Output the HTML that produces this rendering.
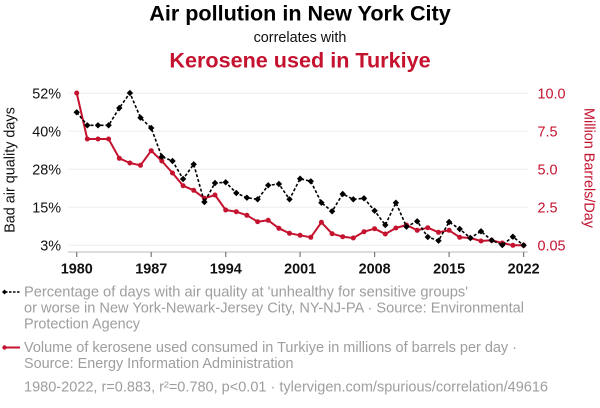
<!DOCTYPE html>
<html>
<head>
<meta charset="utf-8">
<style>
html,body{margin:0;padding:0;background:#fff;}
svg{display:block;}
text{font-family:"Liberation Sans",Arial,sans-serif;}
</style>
</head>
<body>
<svg width="600" height="408" viewBox="0 0 600 408" xmlns="http://www.w3.org/2000/svg">
<rect width="600" height="408" fill="#fff"/>
<defs>
<path id="d" d="M0,-3.2 L3.2,0 L0,3.2 L-3.2,0 Z" fill="#000"/>
</defs>

<!-- Titles -->
<text x="300" y="20.5" text-anchor="middle" font-size="21.6" font-weight="bold" fill="#000">Air pollution in New York City</text>
<text x="300" y="42" text-anchor="middle" font-size="14.4" fill="#111">correlates with</text>
<text x="300" y="67.3" text-anchor="middle" font-size="21.6" font-weight="bold" fill="#c4122f">Kerosene used in Turkiye</text>

<!-- gridlines -->
<g stroke="#eeeeee" stroke-width="1">
<line x1="68" y1="93.3" x2="528" y2="93.3"/>
<line x1="68" y1="131.3" x2="528" y2="131.3"/>
<line x1="68" y1="169.3" x2="528" y2="169.3"/>
<line x1="68" y1="207.3" x2="528" y2="207.3"/>
<line x1="68" y1="245.3" x2="528" y2="245.3"/>
</g>

<!-- x axis -->
<line x1="68" y1="252" x2="528" y2="252" stroke="#d0d0d0" stroke-width="1.5"/>
<g stroke="#777" stroke-width="1.2">
<line x1="76.7" y1="252" x2="76.7" y2="257"/>
<line x1="151.2" y1="252" x2="151.2" y2="257"/>
<line x1="225.7" y1="252" x2="225.7" y2="257"/>
<line x1="300.1" y1="252" x2="300.1" y2="257"/>
<line x1="374.6" y1="252" x2="374.6" y2="257"/>
<line x1="449.1" y1="252" x2="449.1" y2="257"/>
<line x1="523.6" y1="252" x2="523.6" y2="257"/>
</g>
<g font-size="14.4" font-weight="bold" fill="#111" text-anchor="middle">
<text x="76.7" y="273.5">1980</text>
<text x="151.2" y="273.5">1987</text>
<text x="225.7" y="273.5">1994</text>
<text x="300.1" y="273.5">2001</text>
<text x="374.6" y="273.5">2008</text>
<text x="449.1" y="273.5">2015</text>
<text x="523.6" y="273.5">2022</text>
</g>

<!-- left axis labels -->
<g font-size="14.4" fill="#111" text-anchor="end">
<text x="61" y="98.5">52%</text>
<text x="61" y="136.5">40%</text>
<text x="61" y="174.5">28%</text>
<text x="61" y="212.5">15%</text>
<text x="61" y="250.5">3%</text>
</g>
<text transform="translate(14.5,170) rotate(-90)" text-anchor="middle" font-size="14.4" fill="#111">Bad air quality days</text>

<!-- right axis labels -->
<g font-size="14.4" fill="#c4122f" text-anchor="start">
<text x="537.5" y="98.5">10.0</text>
<text x="537.5" y="136.5">7.5</text>
<text x="537.5" y="174.5">5.0</text>
<text x="537.5" y="212.5">2.5</text>
<text x="537.5" y="250.5">0.05</text>
</g>
<text transform="translate(584.5,168) rotate(90)" text-anchor="middle" font-size="14.4" fill="#c4122f">Million Barrels/Day</text>

<!-- red series -->
<polyline fill="none" stroke="#c4122f" stroke-width="2" stroke-linejoin="round" points="76.7,93 87.3,139 98,139 108.6,139 119.3,158.3 129.9,163 140.5,165.3 151.2,150.7 161.8,161 172.5,173 183.1,185.7 193.7,190.3 204.4,198.3 215,195 225.7,210 236.3,211.7 246.9,215.3 257.6,221.7 268.2,220.3 278.9,228.3 289.5,233.3 300.1,235.3 310.8,237.3 321.4,222.3 332.1,233.7 342.7,236.7 353.3,238 364,231.7 374.6,228.7 385.3,234 395.9,228 406.5,225 417.2,230.3 427.8,227.7 438.5,232.3 449.1,230.3 459.7,237.3 470.4,238 481,241 491.7,240.3 502.3,243 512.9,245.3 523.6,245.3"/>
<g fill="#c4122f">
<circle cx="76.7" cy="93" r="2.5"/><circle cx="87.3" cy="139" r="2.5"/><circle cx="98" cy="139" r="2.5"/><circle cx="108.6" cy="139" r="2.5"/><circle cx="119.3" cy="158.3" r="2.5"/><circle cx="129.9" cy="163" r="2.5"/><circle cx="140.5" cy="165.3" r="2.5"/><circle cx="151.2" cy="150.7" r="2.5"/><circle cx="161.8" cy="161" r="2.5"/><circle cx="172.5" cy="173" r="2.5"/><circle cx="183.1" cy="185.7" r="2.5"/><circle cx="193.7" cy="190.3" r="2.5"/><circle cx="204.4" cy="198.3" r="2.5"/><circle cx="215" cy="195" r="2.5"/><circle cx="225.7" cy="210" r="2.5"/><circle cx="236.3" cy="211.7" r="2.5"/><circle cx="246.9" cy="215.3" r="2.5"/><circle cx="257.6" cy="221.7" r="2.5"/><circle cx="268.2" cy="220.3" r="2.5"/><circle cx="278.9" cy="228.3" r="2.5"/><circle cx="289.5" cy="233.3" r="2.5"/><circle cx="300.1" cy="235.3" r="2.5"/><circle cx="310.8" cy="237.3" r="2.5"/><circle cx="321.4" cy="222.3" r="2.5"/><circle cx="332.1" cy="233.7" r="2.5"/><circle cx="342.7" cy="236.7" r="2.5"/><circle cx="353.3" cy="238" r="2.5"/><circle cx="364" cy="231.7" r="2.5"/><circle cx="374.6" cy="228.7" r="2.5"/><circle cx="385.3" cy="234" r="2.5"/><circle cx="395.9" cy="228" r="2.5"/><circle cx="406.5" cy="225" r="2.5"/><circle cx="417.2" cy="230.3" r="2.5"/><circle cx="427.8" cy="227.7" r="2.5"/><circle cx="438.5" cy="232.3" r="2.5"/><circle cx="449.1" cy="230.3" r="2.5"/><circle cx="459.7" cy="237.3" r="2.5"/><circle cx="470.4" cy="238" r="2.5"/><circle cx="481" cy="241" r="2.5"/><circle cx="491.7" cy="240.3" r="2.5"/><circle cx="502.3" cy="243" r="2.5"/><circle cx="512.9" cy="245.3" r="2.5"/><circle cx="523.6" cy="245.3" r="2.5"/>
</g>

<!-- black series -->
<polyline fill="none" stroke="#000" stroke-width="1.6" stroke-dasharray="3,2" points="76.7,112.3 87.3,125.3 98,125.3 108.6,125.3 119.3,108 129.9,93 140.5,117.7 151.2,128 161.8,156.7 172.5,161 183.1,179 193.7,164.3 204.4,202 215,183 225.7,182.3 236.3,193 246.9,197.7 257.6,199.3 268.2,185.3 278.9,184 289.5,199.3 300.1,178.7 310.8,181.3 321.4,202.7 332.1,211.3 342.7,194 353.3,199.3 364,198.3 374.6,210.7 385.3,225 395.9,202.7 406.5,226.7 417.2,221.3 427.8,237 438.5,240.7 449.1,222 459.7,229 470.4,238 481,231.3 491.7,240.3 502.3,245 512.9,236.7 523.6,245.3"/>
<g>
<use href="#d" x="76.7" y="112.3"/><use href="#d" x="87.3" y="125.3"/><use href="#d" x="98" y="125.3"/><use href="#d" x="108.6" y="125.3"/><use href="#d" x="119.3" y="108"/><use href="#d" x="129.9" y="93"/><use href="#d" x="140.5" y="117.7"/><use href="#d" x="151.2" y="128"/><use href="#d" x="161.8" y="156.7"/><use href="#d" x="172.5" y="161"/><use href="#d" x="183.1" y="179"/><use href="#d" x="193.7" y="164.3"/><use href="#d" x="204.4" y="202"/><use href="#d" x="215" y="183"/><use href="#d" x="225.7" y="182.3"/><use href="#d" x="236.3" y="193"/><use href="#d" x="246.9" y="197.7"/><use href="#d" x="257.6" y="199.3"/><use href="#d" x="268.2" y="185.3"/><use href="#d" x="278.9" y="184"/><use href="#d" x="289.5" y="199.3"/><use href="#d" x="300.1" y="178.7"/><use href="#d" x="310.8" y="181.3"/><use href="#d" x="321.4" y="202.7"/><use href="#d" x="332.1" y="211.3"/><use href="#d" x="342.7" y="194"/><use href="#d" x="353.3" y="199.3"/><use href="#d" x="364" y="198.3"/><use href="#d" x="374.6" y="210.7"/><use href="#d" x="385.3" y="225"/><use href="#d" x="395.9" y="202.7"/><use href="#d" x="406.5" y="226.7"/><use href="#d" x="417.2" y="221.3"/><use href="#d" x="427.8" y="237"/><use href="#d" x="438.5" y="240.7"/><use href="#d" x="449.1" y="222"/><use href="#d" x="459.7" y="229"/><use href="#d" x="470.4" y="238"/><use href="#d" x="481" y="231.3"/><use href="#d" x="491.7" y="240.3"/><use href="#d" x="502.3" y="245"/><use href="#d" x="512.9" y="236.7"/><use href="#d" x="523.6" y="245.3"/>
</g>

<!-- legend -->
<line x1="5" y1="292" x2="20" y2="292" stroke="#000" stroke-width="1.5" stroke-dasharray="2.5,1.5"/>
<path d="M4.5,289.5 L7,292 L4.5,294.5 L2,292 Z" fill="#000"/>
<line x1="5" y1="347.5" x2="20" y2="347.5" stroke="#c4122f" stroke-width="2"/>
<circle cx="4.5" cy="347.5" r="2.2" fill="#c4122f"/>

<g font-size="14.4" fill="#9e9e9e">
<text x="24" y="296.5" textLength="444" lengthAdjust="spacingAndGlyphs">Percentage of days with air quality at 'unhealthy for sensitive groups'</text>
<text x="24" y="312.5" textLength="500" lengthAdjust="spacingAndGlyphs">or worse in New York-Newark-Jersey City, NY-NJ-PA · Source: Environmental</text>
<text x="24" y="328.5">Protection Agency</text>
<text x="24" y="352" textLength="493" lengthAdjust="spacingAndGlyphs">Volume of kerosene used consumed in Turkiye in millions of barrels per day ·</text>
<text x="24" y="368">Source: Energy Information Administration</text>
<text x="24" y="391.5" textLength="524" lengthAdjust="spacingAndGlyphs">1980-2022, r=0.883, r²=0.780, p&lt;0.01 · tylervigen.com/spurious/correlation/49616</text>
</g>
</svg>
</body>
</html>
